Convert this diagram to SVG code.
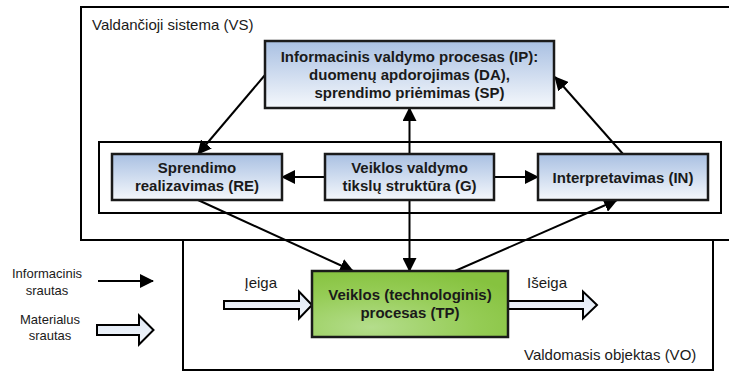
<svg xmlns="http://www.w3.org/2000/svg" width="729" height="372" viewBox="0 0 729 372">
<defs>
<linearGradient id="blueG" x1="0" y1="0" x2="0" y2="1">
<stop offset="0" stop-color="#a9c0e2"/>
<stop offset="1" stop-color="#f5f8fc"/>
</linearGradient>
<radialGradient id="greenG" cx="0.3" cy="0.85" r="0.9">
<stop offset="0" stop-color="#b4dd8c"/>
<stop offset="0.6" stop-color="#95cc55"/>
<stop offset="1" stop-color="#86c23f"/>
</radialGradient>
<linearGradient id="flowG" x1="0" y1="0" x2="0" y2="1">
<stop offset="0" stop-color="#dfe8f5"/>
<stop offset="1" stop-color="#f2f6fb"/>
</linearGradient>
<marker id="ah" markerUnits="userSpaceOnUse" markerWidth="14" markerHeight="14" viewBox="0 0 14 14" refX="13" refY="7" orient="auto">
<path d="M0,0 L14,7 L0,14 z" fill="#000"/>
</marker>
</defs>
<style>
.frame{fill:none;stroke:#000;stroke-width:2}
.box{fill:url(#blueG);stroke:#1a1a1a;stroke-width:2.5}
.tp{fill:url(#greenG);stroke:#1a1a1a;stroke-width:2.5}
.lbl{font-family:"Liberation Sans",Arial,sans-serif;font-size:15px;fill:#1a1a1a}
.leg{font-family:"Liberation Sans",Arial,sans-serif;font-size:13px;fill:#1a1a1a;text-anchor:middle}
.bt{font-family:"Liberation Sans",Arial,sans-serif;font-size:15px;font-weight:bold;fill:#1a1a1a;text-anchor:middle}
.con{stroke:#000;stroke-width:2;fill:none;marker-end:url(#ah)}
.flow{fill:url(#flowG);stroke:#000;stroke-width:2;stroke-linejoin:miter}
</style>
<g id="VS">
<rect class="frame" x="81" y="7" width="660" height="233"/>
<text class="lbl" x="92" y="29.5">Valdančioji sistema (VS)</text>
</g>
<g id="VO">
<rect class="frame" x="183" y="240" width="530" height="130"/>
<text class="lbl" x="524" y="360">Valdomasis objektas (VO)</text>
</g>
<g id="container">
<rect class="frame" x="99" y="142" width="622" height="71"/>
</g>
<g id="connectors">
<line class="con" x1="265" y1="75" x2="198" y2="154"/>
<line class="con" x1="623" y1="154" x2="555" y2="77"/>
<line class="con" x1="409.5" y1="154" x2="409.5" y2="108"/>
<line class="con" x1="325" y1="177" x2="282" y2="177"/>
<line class="con" x1="494" y1="177" x2="538" y2="177"/>
<line class="con" x1="198" y1="200" x2="353" y2="271"/>
<line class="con" x1="409.5" y1="200" x2="409.5" y2="271"/>
<line class="con" x1="455" y1="271" x2="617" y2="200"/>
<line class="con" x1="98" y1="281" x2="153" y2="281"/>
<path class="flow" d="M97,325 L139,325 L139,315.5 L153.5,330 L139,344.5 L139,335 L97,335 z"/>
<path class="flow" d="M224,301 L299,301 L299,291.5 L312,305 L299,318.5 L299,309 L224,309 z"/>
<path class="flow" d="M508,301 L583,301 L583,291.5 L597,305 L583,318.5 L583,309 L508,309 z"/>
</g>
<g id="IP">
<rect class="box" x="265" y="41" width="289" height="67"/>
<text class="bt" x="409.5" y="61.5">Informacinis valdymo procesas (IP):</text>
<text class="bt" x="409.5" y="79.5">duomenų apdorojimas (DA),</text>
<text class="bt" x="409.5" y="97.5">sprendimo priėmimas (SP)</text>
</g>
<g id="RE">
<rect class="box" x="112" y="154" width="170" height="46"/>
<text class="bt" x="197" y="172.5">Sprendimo</text>
<text class="bt" x="197" y="190.5">realizavimas (RE)</text>
</g>
<g id="G">
<rect class="box" x="325" y="154" width="169" height="46"/>
<text class="bt" x="409.5" y="172.5">Veiklos valdymo</text>
<text class="bt" x="409.5" y="190.5">tikslų struktūra (G)</text>
</g>
<g id="IN">
<rect class="box" x="538" y="154" width="170" height="46"/>
<text class="bt" x="623" y="182.5">Interpretavimas (IN)</text>
</g>
<g id="TP">
<rect class="tp" x="312" y="271" width="196" height="66"/>
<text class="bt" x="410" y="299.5">Veiklos (technologinis)</text>
<text class="bt" x="410" y="318">procesas (TP)</text>
</g>
<g id="labels">
<text class="lbl" x="244.5" y="288">Įeiga</text>
<text class="lbl" x="527" y="288">Išeiga</text>
</g>
<g id="legend">
<text class="leg" x="47" y="277.5">Informacinis</text>
<text class="leg" x="47" y="294.5">srautas</text>
<text class="leg" x="50" y="323.5">Materialus</text>
<text class="leg" x="50" y="340">srautas</text>
</g>
</svg>
